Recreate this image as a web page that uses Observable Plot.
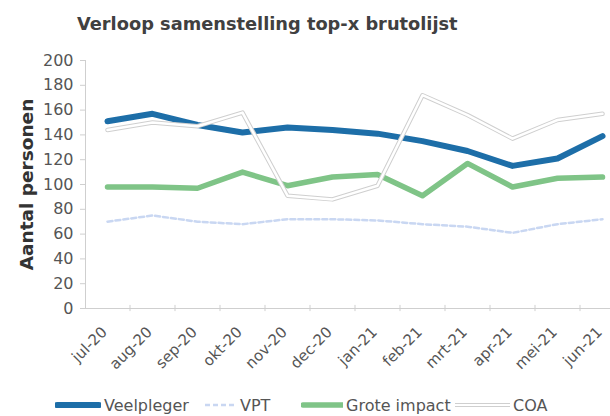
<!DOCTYPE html>
<html>
<head>
<meta charset="utf-8">
<script src="https://cdn.jsdelivr.net/npm/d3@7"></script>
<script src="https://cdn.jsdelivr.net/npm/@observablehq/plot@0.6"></script>
<style>
  html, body { margin: 0; padding: 0; background: #fff; }
  body { width: 610px; height: 416px; overflow: hidden; font-family: "DejaVu Sans", Verdana, sans-serif; position: relative; }
  #title { height: 45px; box-sizing: border-box; padding-top: 13px; padding-left: 77px; text-align: left; font-weight: bold; font-size: 17.8px; color: #404040; white-space: nowrap; }
  #legend { position: absolute; left: 0; top: 393px; width: 610px; height: 24px; font-size: 16px; color: #555; }
  .item { position: absolute; top: 0; display: flex; align-items: center; height: 24px; }
  .item svg { display: block; margin-right: 3px; }
  #chart svg { overflow: visible; }
</style>
</head>
<body>
<div id="title">Verloop samenstelling top-x brutolijst</div>
<div id="chart"></div>
<div id="legend"></div>
<script>
const months = ["jul-20","aug-20","sep-20","okt-20","nov-20","dec-20","jan-21","feb-21","mrt-21","apr-21","mei-21","jun-21"];
const seriesNames = ["Veelpleger","VPT","Grote impact","COA"];
const veelpleger = [151,157,148,142,146,144,141,135,127,115,121,139];
const vpt = [70,75,70,68,72,72,71,68,66,61,68,72];
const groteImpact = [98,98,97,110,99,106,108,91,117,98,105,106];
const coa = [144,150,147,158,91,88,99,172,156,137,152,157];
const yTicks = [0,20,40,60,80,100,120,140,160,180,200];

const rows = (name, vals) => months.map((m, i) => ({series: name, month: m, value: vals[i]}));
const dV = rows("Veelpleger", veelpleger);
const dP = rows("VPT", vpt);
const dG = rows("Grote impact", groteImpact);
const dC = rows("COA", coa);

const blue = "#1d6ea8", green = "#7fc487", lightBlue = "#c9d7f2", gray = "#cfcfcf";

const chart = Plot.plot({
  width: 610,
  height: 335,
  marginTop: 15,
  marginBottom: 72,
  marginLeft: 85,
  marginRight: 0,
  style: {fontFamily: "DejaVu Sans, Verdana, sans-serif", background: "#fff"},
  x: {type: "point", domain: months, range: [107, 602], padding: 0, axis: null},
  y: {domain: [0, 200], axis: null},
  marks: [
    Plot.frame({anchor: "left", stroke: "#cfcfcf"}),
    Plot.ruleY([0], {stroke: "#cfcfcf"}),
    Plot.ruleX(months, {x: d => d, y1: -2.5, y2: 2.5, dx: 22.5, stroke: "#cfcfcf"}),
    Plot.axisY({ticks: yTicks, tickSize: 5, tickPadding: 7, fontSize: 16, color: "#555", stroke: "#cfcfcf", tickFormat: d => d, label: null}),
    Plot.text(["Aantal personen"], {text: d => d, frameAnchor: "left", textAnchor: "middle", dx: -58, rotate: -90, fontSize: 18.5, fontWeight: "bold", fill: "#333"}),
    Plot.text(months, {x: d => d, text: d => d, frameAnchor: "bottom", dy: 17, dx: -7, rotate: -45, textAnchor: "end", lineAnchor: "top", fontSize: 15, fill: "#555"}),
    Plot.line(dP, {x: "month", y: "value", stroke: lightBlue, strokeWidth: 2.5, strokeDasharray: "5,3"}),
    Plot.line(dG, {x: "month", y: "value", stroke: green, strokeWidth: 5.5}),
    Plot.line(dV, {x: "month", y: "value", stroke: blue, strokeWidth: 6}),
    Plot.line(dC, {x: "month", y: "value", stroke: gray, strokeWidth: 4.5}),
    Plot.line(dC, {x: "month", y: "value", stroke: "#fff", strokeWidth: 2.5})
  ]
});
document.getElementById("chart").appendChild(chart);

// legend
const legendItems = [
  {name: seriesNames[0], left: 55, w: 46, draw: () => `<line x1="2" y1="12" x2="44" y2="12" stroke="${blue}" stroke-width="6" stroke-linecap="round"/>`},
  {name: seriesNames[1], left: 205, w: 32, draw: () => `<line x1="0" y1="12" x2="32" y2="12" stroke="${lightBlue}" stroke-width="2.5" stroke-dasharray="5,3"/>`},
  {name: seriesNames[2], left: 301, w: 42, draw: () => `<line x1="2" y1="12" x2="42" y2="12" stroke="${green}" stroke-width="5.5" stroke-linecap="round"/>`},
  {name: seriesNames[3], left: 455, w: 55, draw: () => `<line x1="0" y1="12" x2="55" y2="12" stroke="${gray}" stroke-width="4"/><line x1="0" y1="12" x2="55" y2="12" stroke="#fff" stroke-width="2"/>`}
];
const leg = document.getElementById("legend");
for (const it of legendItems) {
  const div = document.createElement("div");
  div.className = "item";
  div.style.left = it.left + "px";
  div.innerHTML = `<svg width="${it.w}" height="24">${it.draw()}</svg><span>${it.name}</span>`;
  leg.appendChild(div);
}
</script>
</body>
</html>
